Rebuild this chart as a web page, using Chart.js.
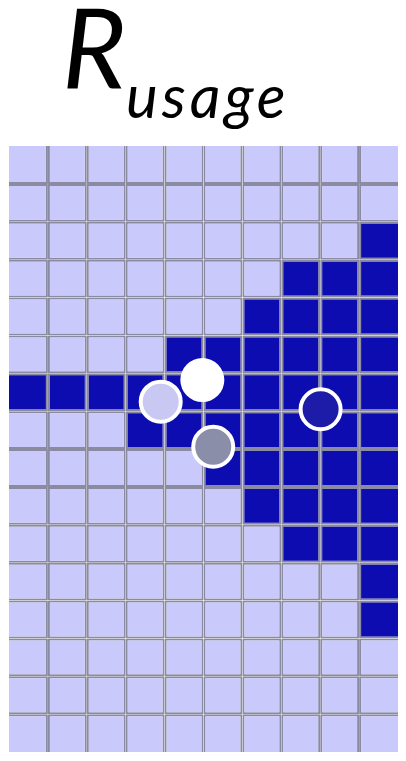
<!DOCTYPE html>
<html>
<head>
<meta charset="utf-8">
<script src="https://cdn.jsdelivr.net/npm/chart.js@4.4.1/dist/chart.umd.min.js"></script>
<style>
  html, body { margin: 0; padding: 0; background: #ffffff; width: 406px; height: 761px; overflow: hidden; }
  #wrap { position: relative; width: 406px; height: 761px; }
  #chart { position: absolute; left: 0; top: 0; }
  .t { position: absolute; font-family: "Lato", "Open Sans", sans-serif; font-style: italic; color: #000; line-height: 1; white-space: nowrap; }
  #tR { left: 62px; top: -10px; font-size: 110px; }
  #tSub { left: 126px; top: 65px; font-size: 60px; letter-spacing: 4px; }
</style>
</head>
<body>
<div id="wrap">
  <canvas id="chart" width="406" height="761"></canvas>
  <span class="t" id="tR">R</span><span class="t" id="tSub">usage</span>
</div>
<script>
// ---- data ----
const columns = ['1', '2', '3', '4', '5', '6', '7', '8', '9', '10'];
// rows listed top to bottom; 1 = high usage (dark), 0 = low usage (light)
const cells = [
  [0,0,0,0,0,0,0,0,0,0],
  [0,0,0,0,0,0,0,0,0,0],
  [0,0,0,0,0,0,0,0,0,1],
  [0,0,0,0,0,0,0,1,1,1],
  [0,0,0,0,0,0,1,1,1,1],
  [0,0,0,0,1,1,1,1,1,1],
  [1,1,1,1,1,1,1,1,1,1],
  [0,0,0,1,1,1,1,1,1,1],
  [0,0,0,0,0,1,1,1,1,1],
  [0,0,0,0,0,0,1,1,1,1],
  [0,0,0,0,0,0,0,1,1,1],
  [0,0,0,0,0,0,0,0,0,1],
  [0,0,0,0,0,0,0,0,0,1],
  [0,0,0,0,0,0,0,0,0,0],
  [0,0,0,0,0,0,0,0,0,0],
  [0,0,0,0,0,0,0,0,0,0]
];
// markers: x as column index (0 = centre of first column), y in rows from the bottom edge
const markerNames = ['white', 'lavender', 'grey', 'navy'];
const markerX = [4.47, 3.40, 4.75, 7.51];
const markerY = [9.82, 9.25, 8.06, 9.05];

// ---- styles ----
const lightColor = '#c9c9fb';
const darkColor = '#0c0cb0';
const gridColor = '#8a8aa0';
const markerFill = ['#ffffff', '#c8c8f2', '#8a8ea8', '#1c1ca8'];
const markerBorder = [0, 4, 4, 4];
const markerRadius = [22, 20, 20, 20];

const nRows = cells.length;
const nCols = columns.length;
const datasets = [];
cells.forEach((row, r) => {
  const lo = nRows - 1 - r;
  datasets.push({
    type: 'bar',
    label: 'row ' + (r + 1),
    data: columns.map(() => [lo, lo + 1]),
    backgroundColor: row.map(v => v ? darkColor : lightColor),
    borderColor: gridColor,
    borderSkipped: false,
    inflateAmount: 0,
    grouped: false,
    borderWidth: (ctx) => ({
      left: ctx.dataIndex === 0 ? 0 : 2,
      right: ctx.dataIndex === nCols - 1 ? 0 : 2,
      top: r === 0 ? 0 : 2,
      bottom: r === nRows - 1 ? 0 : 2
    }),
    barPercentage: 1,
    categoryPercentage: 1,
    xAxisID: 'x',
    yAxisID: 'y',
    order: 1
  });
});
markerNames.forEach((name, i) => {
  datasets.push({
    type: 'scatter',
    label: name,
    data: [{ x: markerX[i], y: markerY[i] }],
    backgroundColor: markerFill[i],
    borderColor: '#ffffff',
    borderWidth: markerBorder[i],
    pointRadius: markerRadius[i],
    pointHoverRadius: markerRadius[i],
    xAxisID: 'xp',
    yAxisID: 'y',
    order: -1 - i
  });
});

new Chart(document.getElementById('chart'), {
  type: 'bar',
  data: { labels: columns, datasets: datasets },
  options: {
    responsive: false,
    animation: false,
    devicePixelRatio: 1,
    layout: { autoPadding: false, padding: { left: 9, right: 8, top: 146, bottom: 9 } },
    plugins: { legend: { display: false }, title: { display: false }, tooltip: { enabled: false } },
    scales: {
      x: { type: 'category', display: false, offset: true },
      xp: { type: 'linear', display: false, offset: false, bounds: 'data', grace: 0, min: -0.5, max: nCols - 0.5 },
      y: { type: 'linear', display: false, offset: false, min: 0, max: nRows }
    }
  }
});
</script>
</body>
</html>
